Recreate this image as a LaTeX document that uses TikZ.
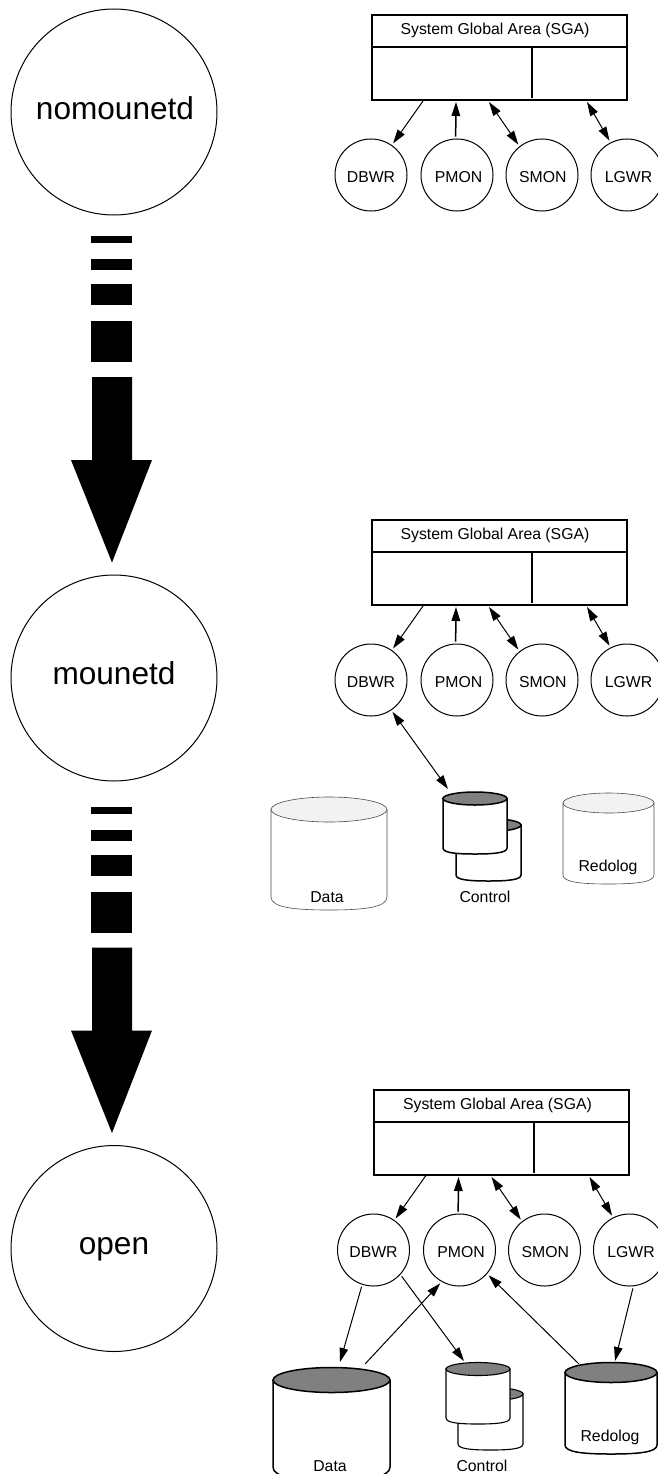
\documentclass[tikz,border=0pt]{standalone}
\usepackage{fontspec}
\setmainfont{Liberation Sans}
\usetikzlibrary{arrows.meta}
\tikzset{
  x=1pt,y=-1pt,
  proc/.style={circle,draw,line width=1pt,minimum size=72pt,inner sep=0pt,outer sep=2.5pt,text height=14.3pt,text depth=0pt,font=\fontsize{15.8}{18}\selectfont},
  state/.style={circle,draw,line width=1pt,minimum size=206pt,inner sep=0pt,font=\fontsize{31.6}{36}\selectfont},
  sgabox/.style={draw,line width=1.7pt,minimum width=255pt,minimum height=85pt,inner sep=0pt},
  sgaline/.style={line width=1.7pt},
  lbl/.style={font=\fontsize{15.8}{18}\selectfont,inner sep=0pt},
  one/.style={line width=1pt,-{Triangle[length=14pt,width=8.5pt]}},
  onethick/.style={line width=1.5pt,-{Triangle[length=14pt,width=8.5pt]}},
  two/.style={line width=1pt,{Triangle[length=14pt,width=8.5pt]}-{Triangle[length=14pt,width=8.5pt]}},
  cylthin/.style={line width=0.6pt,draw=black!70,fill=white},
  cylmid/.style={line width=1.1pt,draw=black,fill=white},
  cylthick/.style={line width=1.5pt,draw=black,fill=white},
}
\definecolor{lighttop}{gray}{0.95}
\definecolor{darktop}{gray}{0.5}
% x1 x2 ytopcentre ry ysides depth style topfill
\newcommand{\cylshape}[8]{%
  \path[#7] (#1,#3) -- (#1,#5) .. controls (#1,{#5+0.8*#6}) and ({#1+0.2*(#2-#1)},{#5+#6}) .. ({0.5*(#1+#2)},{#5+#6})
     .. controls ({#2-0.2*(#2-#1)},{#5+#6}) and (#2,{#5+0.8*#6}) .. (#2,#5) -- (#2,#3) -- cycle;
  \path[#7,fill=#8] ({0.5*(#1+#2)},#3) ellipse ({0.5*(#2-#1)} and #4);
}
% prefix xoff yoff boxxoff
\newcommand{\sgagroup}[4]{%
  \begin{scope}[shift={(#2,#3)}]
    \node[sgabox] (#1sga) at ({499.5+#4},562.5) {};
    \node[lbl] (#1title) at (495,535) {System Global Area (SGA)};
    \coordinate (#1dl) at ({372+#4},552);
    \coordinate (#1dr) at ({627+#4},552);
    \coordinate (#1vt) at ({532+#4},552);
    \coordinate (#1vb) at ({532+#4},603);
    \draw[sgaline] (#1dl) -- (#1dr);
    \draw[sgaline] (#1vt) -- (#1vb);
    \node[proc] (#1dbwr) at (371,680) {DBWR};
    \node[proc] (#1pmon) at (457,680) {\hspace{3pt}PMON};
    \node[proc] (#1smon) at (542,680) {\hspace{1.5pt}SMON};
    \node[proc] (#1lgwr) at (627,680) {\hspace{3pt}LGWR};
    \coordinate (#1a) at (423,606);
    \coordinate (#1b) at (456,607);
    \coordinate (#1c) at (489,607);
    \coordinate (#1d) at (587,607);
    \draw[one] (#1a) -- (#1dbwr.55);
    \draw[onethick] (#1pmon.92) -- (#1b);
    \draw[two] (#1c) -- (#1smon.128);
    \draw[two] (#1d) -- (#1lgwr.117);
  \end{scope}
}
\begin{document}
\begin{tikzpicture}
\useasboundingbox (0,0) rectangle (658,1474);
\clip (0,0) rectangle (658,1474);
\fill[white] (0,0) rectangle (658,1474);

% left column
\node[state,text depth=8pt] (nomount) at (114,112) {\hspace{2pt}nomounetd};
\node[state,text depth=9pt] (mount) at (114,678) {mounetd};
\node[state,text height=19.5pt] (open) at (114,1248.5) {open\hspace{10pt}};
\foreach \o in {0,570.5}{
  \begin{scope}[shift={(0,\o)}]
    \fill (91,236) rectangle (132,243);
    \fill (91,259) rectangle (132,270);
    \fill (91,284) rectangle (132,305);
    \fill (91,321) rectangle (132,362);
    \fill (92,377) -- (132,377) -- (132,460) -- (152,460) -- (112,562.5) -- (71,460) -- (92,460) -- cycle;
  \end{scope}
}

% SGA groups
\sgagroup{g1}{0}{-505}{0}
\sgagroup{g2}{0}{0}{0}
\sgagroup{g3}{2.5}{570}{-0.5}

% group 2 storage
\cylshape{271}{387}{809.5}{12.5}{897}{13}{cylthin}{lighttop}
\cylshape{563}{654}{803}{10}{875}{9}{cylthin}{lighttop}
\cylshape{456}{521}{825}{6.5}{875}{6}{cylthick}{darktop}
\cylshape{443}{507}{798.5}{6.5}{848}{6}{cylthick}{darktop}
\node[lbl] (g2data) at (327,897) {Data};
\node[lbl] (g2ctl) at (485,897) {Control};
\node[lbl] (g2red) at (608,867) {Redolog};
\coordinate (g2ctop) at (448,789);
\draw[two] (g2dbwr.-56) -- (g2ctop);

% group 3 storage
\cylshape{273}{390}{1380}{12.5}{1467}{13}{cylthick}{darktop}
\cylshape{565}{657}{1372.5}{10}{1445}{9}{cylthick}{darktop}
\cylshape{458}{523}{1394}{6.5}{1444}{6}{cylmid}{darktop}
\cylshape{446}{510}{1369}{6.5}{1418}{6}{cylmid}{darktop}
\node[lbl] (g3data) at (330,1466) {Data};
\node[lbl] (g3ctl) at (482,1466) {Control};
\node[lbl] (g3red) at (610,1437) {Redolog};
\coordinate (g3dtip) at (340,1362);
\coordinate (g3dout) at (365,1364);
\coordinate (g3ctip) at (464,1361);
\coordinate (g3rout) at (579,1364);
\coordinate (g3rtip) at (615,1361);
\draw[one] (g3dbwr.-108) -- (g3dtip);
\draw[one] (g3dout) -- (g3pmon.240);
\draw[one] (g3dbwr.-43) -- (g3ctip);
\draw[one] (g3rout) -- (g3pmon.-41);
\draw[one] (g3lgwr.-85) -- (g3rtip);
\end{tikzpicture}
\end{document}
